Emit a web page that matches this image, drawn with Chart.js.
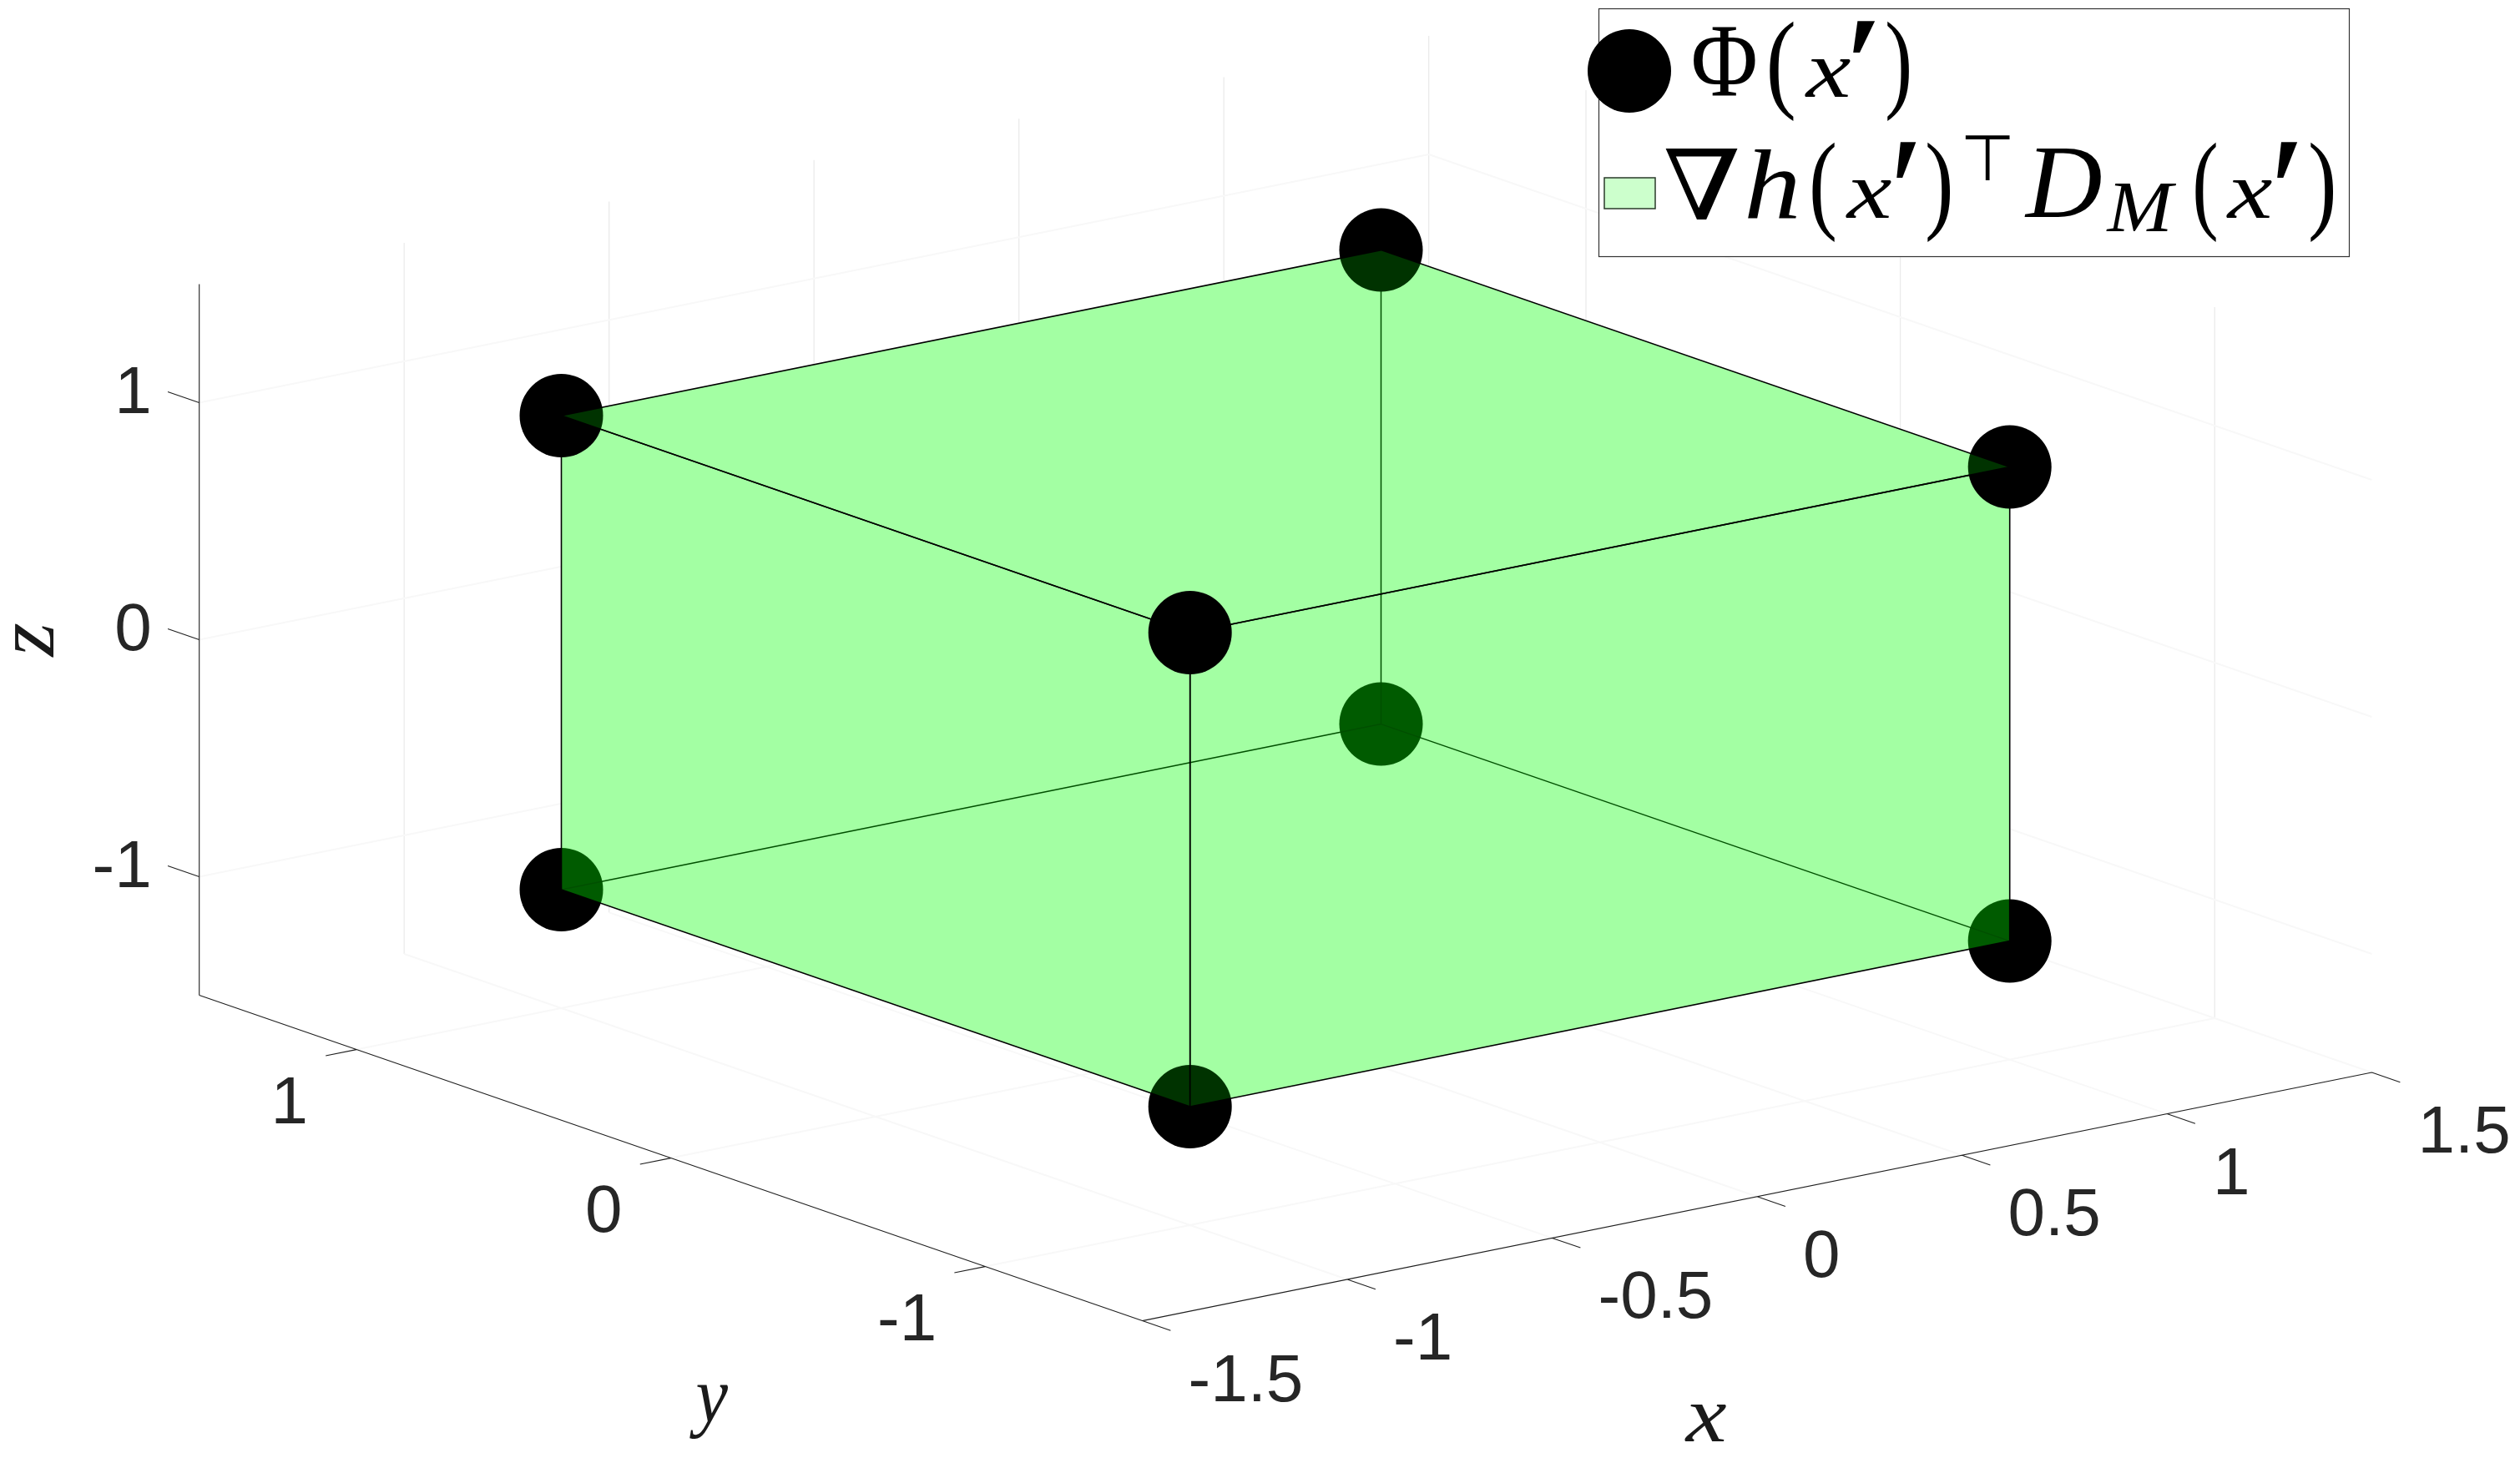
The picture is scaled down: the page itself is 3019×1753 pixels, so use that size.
<!DOCTYPE html>
<html>
<head>
<meta charset="utf-8">
<style>html,body{margin:0;padding:0;background:#fff}canvas{display:block}</style>
<script src="https://cdn.jsdelivr.net/npm/chart.js@4"></script>
</head>
<body>
<canvas id="c" width="3019" height="1753"></canvas>
<script>
// ---- data ----
const xTicks = [-1.5, -1, -0.5, 0, 0.5, 1, 1.5];
const yTicks = [-1, 0, 1];
const zTicks = [-1, 0, 1];
const xTickLabels = ['-1.5', '-1', '-0.5', '0', '0.5', '1', '1.5'];
const yTickLabels = ['-1', '0', '1'];
const zTickLabels = ['-1', '0', '1'];
const axisLimit = 1.5;
// cube corners
const cornerX = [-1, 1, 1, -1, -1, 1, 1, -1];
const cornerY = [-1, -1, 1, 1, -1, -1, 1, 1];
const cornerZ = [-1, -1, -1, -1, 1, 1, 1, 1];
const faceBottom = [0, 1, 2, 3];
const faceTop = [4, 5, 6, 7];
const faceXmin = [0, 3, 7, 4];
const faceXmax = [1, 2, 6, 5];
const faceYmin = [0, 1, 5, 4];
const faceYmax = [3, 2, 6, 7];
const silhouette = [0, 1, 5, 6, 7, 3];
const markersBelow = [1, 2, 3];      // drawn under every face
const markersLow = [0];              // under the two front side faces
const markersMiddle = [5, 6, 7];     // drawn under the top face only
const markersFront = [4];            // corner nearest the viewer
const hiddenEdges = [[2, 1], [2, 3], [2, 6]];

// ---- view of the 3-D box onto the page ----
const view = {cx: 1540.1, cy: 812.8, xu: [491, -99.2], yu: [-376.6, -130], zu: 284};
function project(x, y, z) {
  return {
    x: view.cx + x * view.xu[0] + y * view.yu[0],
    y: view.cy + x * view.xu[1] + y * view.yu[1] - z * view.zu
  };
}
const corner = i => project(cornerX[i], cornerY[i], cornerZ[i]);
const GAP = {x: NaN, y: NaN};
function segs(list) {
  const out = [];
  list.forEach(s => { out.push(project(...s[0]), project(...s[1]), GAP); });
  return out;
}
const L = axisLimit;

const gridStrong = segs([
  ...xTicks.slice(1).map(x => [[x, L, -L], [x, L, L]]),
  ...yTicks.map(y => [[L, y, -L], [L, y, L]])
]);
const gridFaint = segs([
  ...zTicks.flatMap(z => [[[-L, L, z], [L, L, z]], [[L, L, z], [L, -L, z]]]),
  ...xTicks.slice(1).map(x => [[x, -L, -L], [x, L, -L]]),
  ...yTicks.map(y => [[-L, y, -L], [L, y, -L]])
]);
const axisLines = segs([
  [[-L, -L, -L], [L, -L, -L]],
  [[-L, -L, -L], [-L, L, -L]],
  [[-L, L, -L], [-L, L, L]],
  ...xTicks.map(x => [[x, -L, -L], [x, -L - 0.09, -L]]),
  ...yTicks.map(y => [[-L, y, -L], [-L - 0.075, y, -L]]),
  ...zTicks.map(z => [[-L, L, z], [-L, L + 0.1, z]])
]);

function lineSet(label, data, color, width) {
  return {label, data, showLine: true, fill: false, borderColor: color, borderWidth: width,
          pointRadius: 0, spanGaps: false, tension: 0};
}
function faceSet(label, face, outlined, fillColor) {
  const pts = face.concat(face[0]).map(corner);
  return {label, data: pts, showLine: true, fill: 'shape', backgroundColor: fillColor || 'rgba(0,255,0,0.2)',
          borderColor: outlined ? '#000' : 'rgba(0,0,0,0)', borderWidth: outlined ? 1.6 : 0,
          pointRadius: 0, tension: 0, spanGaps: false};
}
function markerSet(label, ids) {
  return {label, data: ids.map(corner), showLine: false, pointRadius: 50, pointHoverRadius: 50,
          pointBackgroundColor: '#000', pointBorderWidth: 0, borderWidth: 0};
}

// listed in drawing order, first = furthest back
const layers = [
  lineSet('grid', gridStrong, '#ebebeb', 1.3),
  lineSet('grid faint', gridFaint, '#f8f8f8', 2),
  lineSet('axes', axisLines, '#1f1f1f', 1.1),
  faceSet('backing', silhouette, false, '#ffffff'),
  markerSet('Phi far', markersBelow),
  faceSet('face z-', faceBottom, false),
  faceSet('face x+', faceXmax, false),
  faceSet('face y+', faceYmax, false),
  lineSet('hidden edges', segs(hiddenEdges.map(e => [
    [cornerX[e[0]], cornerY[e[0]], cornerZ[e[0]]],
    [cornerX[e[1]], cornerY[e[1]], cornerZ[e[1]]]
  ])), '#002400', 1.5),
  markerSet('Phi low', markersLow),
  faceSet('face x-', faceXmin, true),
  faceSet('face y-', faceYmin, true),
  markerSet('Phi mid', markersMiddle),
  faceSet('face z+', faceTop, true),
  markerSet('Phi near', markersFront)
];
layers.forEach((d, i) => { d.order = layers.length - i; });

const SANS = "'Liberation Sans'";
const SERIF = "'Liberation Serif'";

// draws text so that its ink fills the given box
function fit(ctx, s, font, x0, y0, x1, y1, rot) {
  ctx.save();
  ctx.font = font;
  ctx.textAlign = 'left';
  ctx.textBaseline = 'alphabetic';
  const m = ctx.measureText(s);
  const w = m.actualBoundingBoxLeft + m.actualBoundingBoxRight;
  const h = m.actualBoundingBoxAscent + m.actualBoundingBoxDescent;
  if (rot) {
    ctx.translate((x0 + x1) / 2, (y0 + y1) / 2);
    ctx.rotate(rot);
    ctx.scale((y1 - y0) / w, (x1 - x0) / h);
    ctx.fillText(s, -w / 2 + m.actualBoundingBoxLeft, -h / 2 + m.actualBoundingBoxAscent);
  } else {
    ctx.translate(x0, y0);
    ctx.scale((x1 - x0) / w, (y1 - y0) / h);
    ctx.fillText(s, m.actualBoundingBoxLeft, m.actualBoundingBoxAscent);
  }
  ctx.restore();
}

const annotations = {
  id: 'annotations',
  afterDraw(chart) {
    const ctx = chart.ctx, sx = chart.scales.x, sy = chart.scales.y;
    const at = p => ({x: sx.getPixelForValue(p.x), y: sy.getPixelForValue(p.y)});
    ctx.save();
    ctx.fillStyle = '#262626';
    ctx.font = '80px ' + SANS;
    ctx.textBaseline = 'alphabetic';
    ctx.textAlign = 'left';
    xTicks.forEach((v, i) => {
      const p = at(project(v, -L, -L));
      ctx.fillText(xTickLabels[i], p.x + 55, p.y + 96);
    });
    ctx.textAlign = 'right';
    yTicks.forEach((v, i) => {
      const p = at(project(-L, v, -L));
      ctx.fillText(yTickLabels[i], p.x - 58, p.y + 88);
    });
    zTicks.forEach((v, i) => {
      const p = at(project(-L, L, v));
      ctx.fillText(zTickLabels[i], p.x - 57, p.y + 12);
    });
    // axis titles
    ctx.fillStyle = '#1a1a1a';
    fit(ctx, 'x', 'italic 200px ' + SERIF, 2018, 1683, 2068, 1727);
    fit(ctx, 'y', 'italic 200px ' + SERIF, 826, 1660, 872, 1725);
    fit(ctx, 'z', 'italic 200px ' + SERIF, 18, 747, 64, 788, -Math.PI / 2);

    // legend
    ctx.fillStyle = '#fff';
    ctx.fillRect(1915, 10, 900, 298);
    ctx.strokeStyle = '#333';
    ctx.lineWidth = 1.2;
    ctx.strokeRect(1915.5, 10.5, 899, 297);
    ctx.fillStyle = '#000';
    ctx.beginPath();
    ctx.arc(1952, 85, 50, 0, Math.PI * 2);
    ctx.fill();
    ctx.fillStyle = '#ccffcc';
    ctx.fillRect(1922, 213, 61, 37);
    ctx.strokeStyle = '#2a3a2a';
    ctx.lineWidth = 1.5;
    ctx.strokeRect(1922, 213, 61, 37);
    ctx.fillStyle = '#000';
    const R = '200px ' + SERIF, I = 'italic 200px ' + SERIF;
    fit(ctx, 'Φ', R, 2029, 33, 2103, 115);
    fit(ctx, '(', R, 2120, 25, 2149, 145);
    fit(ctx, 'x', I, 2162, 71, 2217, 116);
    fit(ctx, '′', I, 2220, 25, 2247, 63);
    fit(ctx, ')', R, 2261, 25, 2287, 145);
    fit(ctx, '∇', "200px 'DejaVu Serif'", 1995, 178, 2082, 263);
    fit(ctx, 'h', I, 2094, 178, 2152, 261);
    fit(ctx, '(', R, 2171, 170, 2198, 290);
    fit(ctx, 'x', I, 2211, 216, 2266, 261);
    fit(ctx, '′', I, 2272, 170, 2296, 213);
    fit(ctx, ')', R, 2309, 170, 2336, 290);
    fit(ctx, '⊤', "200px 'DejaVu Sans'", 2355, 162, 2408, 216);
    fit(ctx, 'D', I, 2425, 178, 2517, 260);
    fit(ctx, 'M', I, 2523, 220, 2607, 277);
    fit(ctx, '(', R, 2630, 170, 2655, 290);
    fit(ctx, 'x', I, 2667, 216, 2722, 261);
    fit(ctx, '′', I, 2728, 170, 2753, 213);
    fit(ctx, ')', R, 2768, 170, 2795, 290);
    ctx.restore();
  }
};

new Chart(document.getElementById('c').getContext('2d'), {
  type: 'scatter',
  data: {datasets: layers},
  options: {
    responsive: false,
    animation: false,
    devicePixelRatio: 1,
    layout: {padding: 0, autoPadding: false},
    events: [],
    plugins: {legend: {display: false}, tooltip: {enabled: false}, title: {display: false}},
    scales: {
      x: {type: 'linear', display: false, min: 0, max: 3019},
      y: {type: 'linear', display: false, min: 0, max: 1753, reverse: true}
    }
  },
  plugins: [annotations]
});
</script>
</body>
</html>
